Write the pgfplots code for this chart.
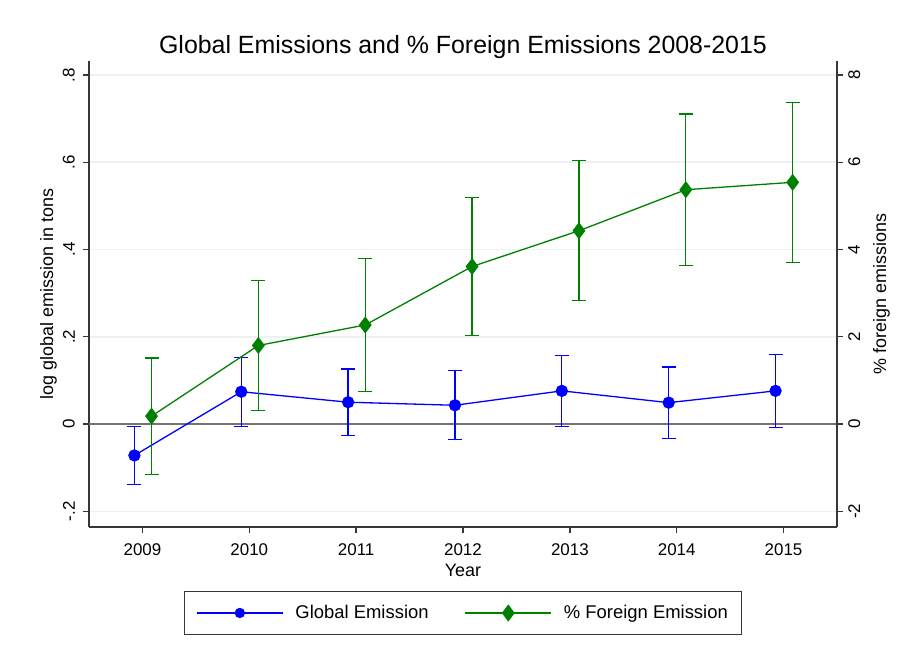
\documentclass[border=0pt]{standalone}
\usepackage{fontspec}
\setmainfont{Liberation Sans}
\usepackage{pgfplots}
\pgfplotsset{compat=1.18}
\definecolor{stgreen}{RGB}{0,128,0}
\definecolor{gridc}{RGB}{234,242,243}
\definecolor{axc}{RGB}{55,55,55}
\begin{document}
\begin{tikzpicture}
\useasboundingbox (-89bp,-134bp) rectangle (815bp,527bp);
\pgfplotsset{
  every axis/.append style={
    width=748bp, height=466bp, scale only axis,
    xmin=2008.5, xmax=2015.5,
    axis line style={axc, line width=1.3bp},
    tick style={axc, line width=1.3bp},
    tick align=outside, major tick length=6bp,
    tick label style={font=\fontsize{17}{17}\selectfont},
    label style={font=\fontsize{18}{18}\selectfont},
    legend image code/.code={
      \draw[mark repeat=2, mark phase=2] plot coordinates {(0bp,0bp)(43bp,0bp)(86bp,0bp)};},
  },
}
% left axis: log global emission
\begin{axis}[
  at={(0,0)}, anchor=south west,
  ymin=-0.236, ymax=0.832,
  axis x line*=bottom, axis y line*=left,
  xtick={2009,2010,2011,2012,2013,2014,2015},
  xticklabels={2009,2010,2011,2012,2013,2014,2015},
  xticklabel style={anchor=north, inner sep=0pt},
  xticklabel shift=10bp,
  ytick={-0.2,0,0.2,0.4,0.6,0.8},
  yticklabels={-.2,0,.2,.4,.6,.8},
  yticklabel style={rotate=90, anchor=south, inner sep=0pt},
  yticklabel shift=8bp,
  ymajorgrids, grid style={gridc, line width=1.5bp},
  title={Global Emissions and \% Foreign Emissions 2008-2015},
  title style={at={(0.5,1)}, anchor=base, yshift=2bp, font=\fontsize{25}{25}\selectfont},
  xlabel={Year},
  xlabel style={at={(0.5,0)}, anchor=base, yshift=-49bp},
  ylabel={log global emission in tons},
  ylabel style={at={(-0.0481,0.5)}, anchor=base, rotate=0},
]
\draw[black!55, line width=1.3bp] (axis cs:2008.5,0) -- (axis cs:2015.5,0);
\addplot[blue, line width=1.3bp, mark=*, mark size=5.5bp,
  error bars/.cd, y dir=both, y explicit,
  error bar style={blue, line width=1.3bp},
  error mark options={rotate=90, blue, mark size=7bp, line width=1.3bp}]
coordinates {
  (2008.925,-0.072) +- (0,0.066)
  (2009.925,0.074) +- (0,0.079)
  (2010.925,0.050) +- (0,0.076)
  (2011.925,0.043) +- (0,0.079)
  (2012.925,0.076) +- (0,0.081)
  (2013.925,0.049) +- (0,0.082)
  (2014.925,0.076) +- (0,0.084)
};
\end{axis}
% right axis: % foreign emissions
\begin{axis}[
  at={(0,0)}, anchor=south west,
  ymin=-2.36, ymax=8.32,
  axis x line=none, axis y line*=right,
  ytick={-2,0,2,4,6,8},
  yticklabels={-2,0,2,4,6,8},
  yticklabel style={rotate=90, anchor=north, inner sep=0pt},
  yticklabel shift=5bp,
  ylabel={\% foreign emissions},
  ylabel style={at={(1.0655,0.5)}, anchor=base, rotate=0},
  legend columns=2,
  legend style={at={(0.5,-0.1845)}, anchor=center, draw=axc, line width=1.2bp,
    font=\fontsize{18.5}{18.5}\selectfont, inner xsep=11.5bp, inner ysep=12bp,
    /tikz/every odd column/.append style={column sep=10bp},
    /tikz/every even column/.append style={column sep=34bp}},
]
\addlegendimage{blue, line width=1.3bp, mark=*, mark size=4.5bp}
\addlegendentry{Global Emission}
\addplot[stgreen, line width=1.3bp, mark=diamond*, mark size=7.5bp,
  error bars/.cd, y dir=both, y explicit,
  error bar style={stgreen, line width=1.3bp},
  error mark options={rotate=90, stgreen, mark size=7bp, line width=1.3bp}]
coordinates {
  (2009.085,0.18) +- (0,1.33)
  (2010.085,1.80) +- (0,1.485)
  (2011.085,2.27) +- (0,1.53)
  (2012.085,3.61) +- (0,1.575)
  (2013.085,4.43) +- (0,1.605)
  (2014.085,5.37) +- (0,1.735)
  (2015.085,5.54) +- (0,1.83)
};
\addlegendentry{\% Foreign Emission}
\end{axis}
\end{tikzpicture}
\end{document}
